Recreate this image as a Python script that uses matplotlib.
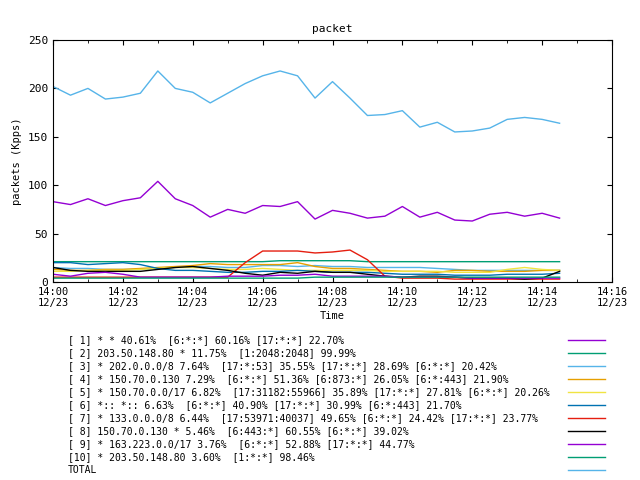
import matplotlib
matplotlib.use("Agg")
import matplotlib.pyplot as plt
from matplotlib.lines import Line2D
import numpy as np

minutes = np.arange(30) * 0.5

s1 = [83, 80, 86, 79, 84, 87, 104, 86, 79, 67, 75, 71, 79, 78, 83, 65, 74, 71, 66, 68, 78, 67, 72, 64, 63, 70, 72, 68, 71, 66]
s2 = [21, 21, 21, 21, 21, 21, 21, 21, 21, 21, 21, 21, 21, 22, 22, 22, 22, 22, 21, 21, 21, 21, 21, 21, 21, 21, 21, 21, 21, 21]
s3 = [15, 14, 14, 13, 13, 13, 14, 15, 16, 16, 15, 15, 17, 17, 16, 17, 16, 16, 15, 15, 15, 15, 14, 13, 12, 12, 12, 12, 12, 12]
s4 = [13, 12, 12, 13, 13, 14, 15, 16, 17, 19, 18, 18, 18, 18, 20, 16, 14, 14, 13, 12, 11, 11, 10, 12, 12, 11, 11, 11, 12, 12]
s5 = [11, 11, 12, 12, 12, 13, 14, 15, 15, 14, 13, 13, 14, 13, 12, 12, 12, 12, 12, 11, 11, 11, 11, 10, 10, 10, 13, 15, 13, 12]
s6 = [20, 20, 18, 19, 20, 18, 14, 12, 12, 11, 10, 10, 11, 11, 12, 11, 10, 10, 10, 9, 8, 8, 8, 7, 7, 7, 8, 8, 8, 9]
s7 = [5, 5, 5, 5, 5, 5, 5, 5, 5, 5, 5, 20, 32, 32, 32, 30, 31, 33, 23, 6, 4, 4, 4, 3, 3, 3, 3, 3, 3, 3]
s8 = [15, 12, 11, 11, 11, 11, 13, 15, 16, 14, 12, 9, 7, 10, 9, 11, 10, 10, 8, 6, 5, 6, 6, 5, 4, 4, 4, 3, 4, 11]
s9 = [8, 6, 9, 10, 8, 5, 5, 5, 5, 5, 6, 6, 6, 7, 7, 8, 6, 6, 6, 6, 5, 5, 5, 5, 4, 4, 4, 4, 4, 4]
s10 = [4, 4, 4, 4, 4, 4, 4, 4, 4, 4, 4, 4, 4, 4, 4, 5, 5, 5, 5, 5, 5, 5, 5, 5, 5, 5, 5, 5, 5, 5]
total = [202, 193, 200, 189, 191, 195, 218, 200, 196, 185, 195, 205, 213, 218, 213, 190, 207, 190, 172, 173,
         177, 160, 165, 155, 156, 159, 168, 170, 168, 164]

labels = [
    "[ 1] * * 40.61%  [6:*:*] 60.16% [17:*:*] 22.70%",
    "[ 2] 203.50.148.80 * 11.75%  [1:2048:2048] 99.99%",
    "[ 3] * 202.0.0.0/8 7.64%  [17:*:53] 35.55% [17:*:*] 28.69% [6:*:*] 20.42%",
    "[ 4] * 150.70.0.130 7.29%  [6:*:*] 51.36% [6:873:*] 26.05% [6:*:443] 21.90%",
    "[ 5] * 150.70.0.0/17 6.82%  [17:31182:55966] 35.89% [17:*:*] 27.81% [6:*:*] 20.26%",
    "[ 6] *:: *:: 6.63%  [6:*:*] 40.90% [17:*:*] 30.99% [6:*:443] 21.70%",
    "[ 7] * 133.0.0.0/8 6.44%  [17:53971:40037] 49.65% [6:*:*] 24.42% [17:*:*] 23.77%",
    "[ 8] 150.70.0.130 * 5.46%  [6:443:*] 60.55% [6:*:*] 39.02%",
    "[ 9] * 163.223.0.0/17 3.76%  [6:*:*] 52.88% [17:*:*] 44.77%",
    "[10] * 203.50.148.80 3.60%  [1:*:*] 98.46%",
    "TOTAL",
]
series = [s1, s2, s3, s4, s5, s6, s7, s8, s9, s10, total]
colors = ["#9400d3", "#009e73", "#56b4e9", "#e69f00", "#f0e442", "#0072b2",
          "#e51e10", "#000000", "#9400d3", "#009e73", "#56b4e9"]

plt.rcParams["font.family"] = "DejaVu Sans Mono"
fig = plt.figure(figsize=(6.4, 4.8), dpi=100)
ax = fig.add_axes([53 / 640, 1 - 282 / 480, (612 - 53) / 640, (282 - 40) / 480])

for vals, c in zip(series, colors):
    ax.plot(minutes, vals, color=c, linewidth=1)

ax.set_xlim(0, 16)
ax.set_ylim(0, 250)
ax.set_xticks(np.arange(0, 17, 2))
ax.set_xticklabels([f"14:{m:02d}\n12/23" for m in range(0, 17, 2)], fontsize=7.5)
ax.set_xticks(np.arange(0, 17, 1), minor=True)
ax.set_yticks(np.arange(0, 251, 50))
ax.tick_params(axis="y", labelsize=8)
ax.tick_params(direction="in", top=True, right=True, which="both")
ax.set_ylabel("packets (Kpps)", fontsize=7.5)
ax.set_title("packet", fontsize=8)
ax.set_xlabel("Time", fontsize=7.5, labelpad=2)

for i, (lab, c) in enumerate(zip(labels, colors)):
    y = 1 - (340 + i * 13) / 480
    fig.text(68 / 640, y, lab, fontsize=7, va="center", ha="left")
    fig.add_artist(Line2D([568 / 640, 605 / 640], [y, y], color=c, linewidth=1))

fig.savefig("out.png", dpi=100)
